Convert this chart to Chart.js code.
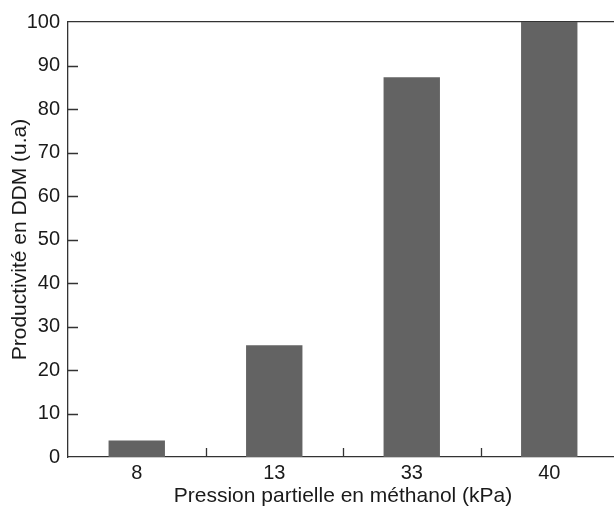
<!DOCTYPE html>
<html><head><meta charset="utf-8">
<script src="https://cdn.jsdelivr.net/npm/chart.js@4/dist/chart.umd.min.js"></script>
<style>html,body{margin:0;padding:0;background:#fff;overflow:hidden}#wrap{width:614px;height:507px;overflow:hidden}</style>
</head><body><div id="wrap"><canvas id="c" width="618" height="507"></canvas></div>
<script>
const categories = ['8', '13', '33', '40'];
const productivity = [3.8, 25.7, 87.3, 100];
const yTicks = [0, 10, 20, 30, 40, 50, 60, 70, 80, 90, 100];
const xTitle = 'Pression partielle en méthanol (kPa)';
const yTitle = 'Productivité en DDM (u.a)';

const FONT = "'Liberation Sans', Arial, Helvetica, sans-serif";
const AXIS = '#333333';
const TEXT = '#1a1a1a';

const innerTicks = {
  id: 'innerTicks',
  afterDatasetsDraw(chart) {
    const ctx = chart.ctx, x = chart.scales.x, y = chart.scales.y;
    const a = chart.chartArea;
    ctx.save();
    ctx.strokeStyle = AXIS; ctx.lineWidth = 1.3;
    ctx.beginPath();
    yTicks.forEach(v => {
      if (v === 0 || v === 100) return;
      const py = Math.round(y.getPixelForValue(v)) + 0.5;
      ctx.moveTo(a.left, py); ctx.lineTo(a.left + 10, py);
    });
    for (let i = 0; i < categories.length - 1; i++) {
      const px = Math.round((x.getPixelForTick(i) + x.getPixelForTick(i + 1)) / 2) + 0.5;
      ctx.moveTo(px, a.bottom); ctx.lineTo(px, a.bottom - 9);
    }
    ctx.stroke();
    ctx.restore();
  }
};

new Chart(document.getElementById('c'), {
  type: 'bar',
  data: {
    labels: categories,
    datasets: [{ data: productivity, backgroundColor: '#636363', borderWidth: 0,
      categoryPercentage: 1, barPercentage: 0.41 }]
  },
  options: {
    responsive: false, animation: false, devicePixelRatio: 1,
    layout: { padding: { top: 22, right: 0, left: 0, bottom: 0 } },
    plugins: { legend: { display: false }, tooltip: { enabled: false } },
    scales: {
      x: {
        position: 'bottom',
        grid: { display: false, drawTicks: false },
        border: { display: true, color: AXIS, width: 1.3 },
        ticks: { color: TEXT, font: { family: FONT, size: 20, lineHeight: 1.2 }, padding: 4 },
        title: { display: true, text: xTitle, color: TEXT, font: { family: FONT, size: 21, lineHeight: 1.05 }, padding: { top: 0, bottom: 0 } },
        afterFit(s) { s.height = 50; }
      },
      xTop: {
        type: 'category', labels: categories, position: 'top',
        grid: { display: false, drawTicks: false },
        border: { display: true, color: AXIS, width: 1.3 },
        ticks: { display: false },
        afterFit(s) { s.height = 0; }
      },
      y: {
        min: 0, max: 100,
        afterBuildTicks(s) { s.ticks = yTicks.map(v => ({ value: v })); },
        grid: { display: false, drawTicks: false },
        border: { display: true, color: AXIS, width: 1.3 },
        ticks: { color: TEXT, font: { family: FONT, size: 20 }, padding: 8 },
        title: { display: true, text: yTitle, color: TEXT, font: { family: FONT, size: 21, lineHeight: 1.2 }, padding: { top: 8, bottom: 0 } },
        afterFit(s) { s.width = 68; }
      }
    }
  },
  plugins: [innerTicks]
});
</script></body></html>
